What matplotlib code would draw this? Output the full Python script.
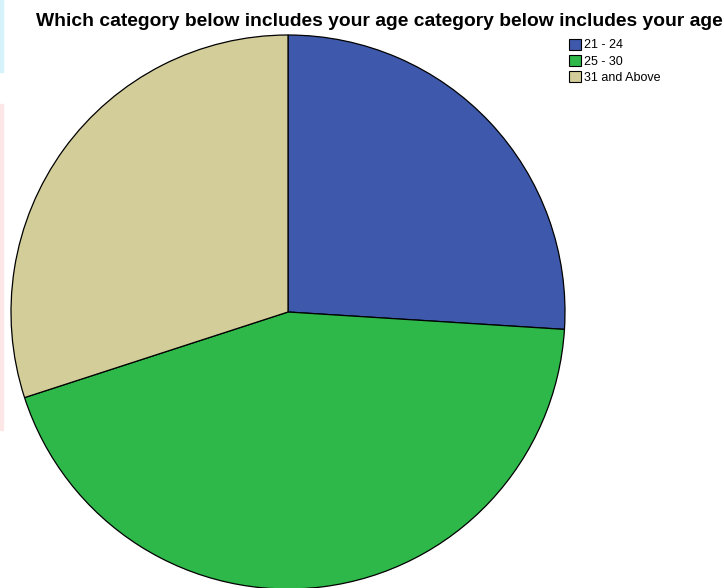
import matplotlib.pyplot as plt
from matplotlib.patches import Patch, Rectangle

labels = ["21 - 24", "25 - 30", "31 and Above"]
counts = [26, 44, 30]
colors = ["#3e59ab", "#2eb84a", "#d3cd99"]
title = "Which category below includes your age category below includes your age"

plt.rcParams['font.family'] = ['Liberation Sans', 'DejaVu Sans']

fig = plt.figure(figsize=(7.24, 5.88), dpi=100)

# faint strips at the left edge of the screenshot
fig.patches.append(Rectangle((0, 1 - 72 / 588), 3 / 724, 72 / 588, transform=fig.transFigure,
                             color="#d6f3fb", zorder=0))
fig.patches.append(Rectangle((0, 1 - 430 / 588), 3 / 724, 326 / 588, transform=fig.transFigure,
                             color="#fde6e6", zorder=0))

ax = fig.add_axes([11 / 724, (588 - 312 - 277) / 588, 554 / 724, 554 / 588])
ax.pie(counts, colors=colors, startangle=90, counterclock=False,
       wedgeprops=dict(edgecolor="black", linewidth=0.9))
ax.set_xlim(-1, 1)
ax.set_ylim(-1, 1)
ax.set_aspect('equal')
ax.axis('off')

fig.text(379 / 724, 1 - 22 / 588, title, ha='center', va='center',
         fontsize=13.9, fontweight='bold')

handles = [Patch(facecolor=c, edgecolor="black", linewidth=0.8) for c in colors]
fig.legend(handles, labels, loc='upper left', bbox_to_anchor=(560 / 724, 1 - 30 / 588),
           frameon=False, fontsize=9, handlelength=0.95, handleheight=0.95,
           handletextpad=0.3, labelspacing=0.28, borderpad=0.2)

fig.savefig("out.png", dpi=100)
